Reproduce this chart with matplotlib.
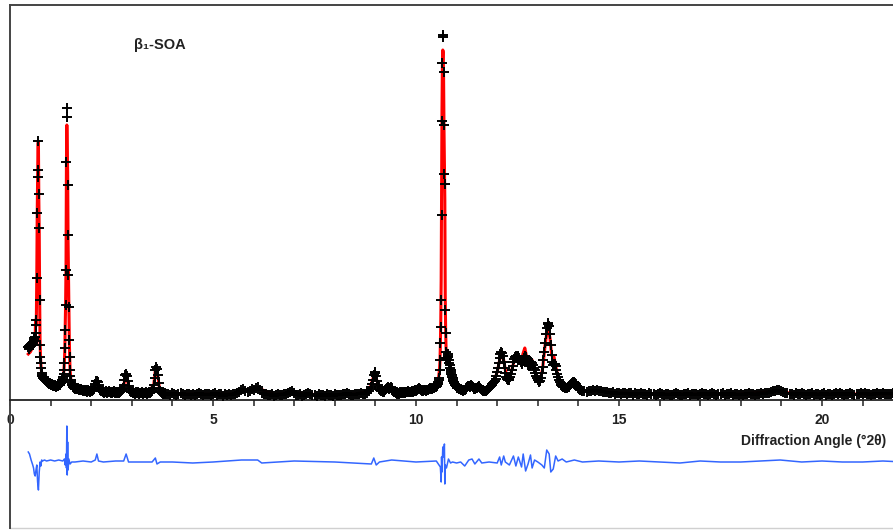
import numpy as np
import matplotlib
matplotlib.use("Agg")
import matplotlib.pyplot as plt
from matplotlib.lines import Line2D

plt.rcParams["font.family"] = ["Liberation Sans", "DejaVu Sans"]

# ---- observed pattern, read off the picture (intensity in arbitrary units) ----
# each block: (first 2theta, step) and the intensities on that step grid
obs_blocks = [(0.45, 0.01), (1.66, 0.02), (3.90, 0.05), (8.88, 0.02),
              (10.48, 0.01), (11.10, 0.02), (14.15, 0.05)]

obs_1 = [
    53, 51, 54, 52, 55, 53, 56, 54, 55, 57,
    56, 58, 57, 59, 60, 62, 63, 63, 67, 75,
    80, 122, 187, 223, 259, 230, 206, 172, 100, 55,
    43, 37, 32, 27, 25, 24, 23, 22, 22, 21,
    21, 20, 20, 19, 20, 19, 18, 18, 19, 17,
    17, 17, 16, 17, 16, 16, 16, 15, 16, 15,
    15, 14, 15, 14, 14, 15, 14, 14, 14, 13,
    14, 14, 14, 15, 14, 15, 15, 15, 16, 16,
    17, 17, 18, 19, 20, 21, 23, 26, 30, 37,
    52, 70, 95, 130, 238, 292, 283, 215, 165, 125,
    93, 60, 43, 30, 24, 20, 18, 16, 15, 14,
    13, 13, 12, 13, 12, 12, 11, 12, 12, 11,
]
obs_2 = [
    11, 12, 10, 11, 10, 11, 10, 9, 10, 9,
    10, 9, 8, 10, 9, 9, 8, 10, 9, 10,
    11, 13, 16, 19, 19, 18, 15, 12, 10, 9,
    9, 8, 9, 7, 8, 9, 8, 7, 8, 9,
    8, 7, 8, 7, 8, 9, 7, 8, 8, 7,
    8, 7, 8, 9, 9, 10, 12, 15, 20, 25,
    26, 24, 19, 14, 11, 9, 8, 8, 7, 8,
    7, 6, 8, 7, 7, 8, 6, 7, 7, 8,
    7, 6, 7, 7, 8, 7, 6, 7, 8, 7,
    8, 8, 9, 11, 15, 22, 30, 33, 31, 25,
    17, 12, 9, 8, 7, 6, 7, 6, 7, 6,
]
obs_3 = [
    6, 5, 7, 6, 5, 6, 7, 6, 5, 6,
    6, 5, 6, 5, 6, 7, 6, 5, 6, 6,
    6, 5, 6, 7, 5, 6, 6, 4, 6, 5,
    6, 5, 6, 6, 7, 8, 10, 11, 9, 8,
    9, 11, 10, 12, 13, 10, 7, 6, 6, 5,
    5, 6, 4, 5, 6, 5, 5, 6, 6, 7,
    8, 9, 7, 5, 5, 6, 4, 5, 6, 7,
    6, 5, 5, 4, 6, 5, 5, 4, 6, 5,
    5, 4, 6, 5, 5, 5, 6, 6, 7, 6,
    5, 5, 6, 6, 6, 7, 6, 6, 7, 9,
]
obs_4 = [
    11, 13, 16, 20, 25, 28, 27, 24, 19, 15,
    13, 11, 10, 9, 9, 8, 8, 9, 10, 11,
    12, 13, 12, 11, 12, 13, 12, 10, 9, 8,
    8, 7, 6, 8, 7, 6, 8, 7, 7, 8,
    7, 8, 8, 7, 8, 8, 9, 8, 8, 8,
    8, 9, 8, 9, 9, 10, 9, 10, 11, 11,
    12, 11, 10, 10, 9, 9, 10, 10, 9, 10,
    10, 10, 11, 12, 12, 11, 11, 12, 12, 13,
]
obs_5 = [
    13, 13, 14, 14, 15, 16, 17, 18, 20, 22,
    30, 40, 57, 73, 100, 185, 279, 337, 365, 363,
    328, 275, 226, 216, 90, 67, 48, 42, 40, 42,
    44, 46, 43, 40, 37, 35, 32, 30, 28, 26,
    25, 23, 22, 20, 19, 18, 17, 16, 15, 15,
    14, 14, 13, 13, 12, 12, 12, 11, 12, 11,
]
obs_6 = [
    11, 10, 10, 9, 10, 10, 11, 12, 13, 14,
    14, 13, 14, 15, 14, 13, 12, 11, 11, 12,
    12, 13, 14, 13, 12, 11, 10, 10, 9, 9,
    9, 9, 10, 10, 11, 12, 13, 14, 15, 16,
    17, 18, 19, 21, 24, 28, 32, 37, 42, 46,
    48, 47, 44, 38, 32, 27, 23, 21, 20, 20,
    21, 23, 26, 30, 34, 38, 41, 43, 44, 43,
    44, 43, 42, 40, 38, 36, 37, 39, 42, 44,
    43, 41, 38, 35, 34, 35, 37, 38, 37, 35,
    32, 30, 27, 24, 22, 20, 19, 18, 19, 22,
    27, 33, 40, 48, 57, 66, 72, 76, 77, 74,
    66, 55, 45, 38, 35, 36, 36, 34, 30, 26,
    23, 20, 18, 16, 15, 14, 13, 13, 12, 13,
    12, 12, 13, 13, 14, 15, 16, 17, 18, 18,
    18, 17, 16, 14, 13, 12, 11, 10, 10, 9,
]
obs_7 = [
    9, 8, 9, 9, 10, 9, 10, 9, 9, 8,
    8, 8, 7, 7, 8, 6, 7, 7, 6, 7,
    7, 6, 7, 7, 5, 7, 6, 6, 7, 6,
    6, 5, 7, 6, 6, 5, 6, 7, 6, 5,
    6, 6, 5, 5, 6, 7, 6, 5, 5, 6,
    6, 7, 5, 6, 6, 6, 5, 6, 7, 6,
    6, 5, 6, 7, 6, 5, 6, 6, 7, 5,
    6, 6, 7, 5, 6, 6, 5, 6, 5, 6,
    6, 7, 6, 6, 5, 6, 6, 7, 6, 7,
    7, 7, 8, 9, 9, 10, 10, 9, 8, 7,
    7, 6, 6, 5, 7, 6, 6, 7, 6, 5,
    6, 6, 7, 5, 6, 6, 5, 6, 7, 5,
    6, 6, 5, 6, 7, 6, 7, 6, 5, 6,
    6, 7, 6, 5, 6, 6, 7, 6, 7, 6,
    6, 5, 6, 6, 7, 6, 6, 7, 6, 6,
    6, 6, 7, 6, 6, 5, 6, 6, 6, 6,
]
obs_values = [obs_1, obs_2, obs_3, obs_4, obs_5, obs_6, obs_7]

# ---- calculated (Rietveld fit) profile ----
calc_tt = [0.45, 0.50, 0.55, 0.58, 0.60, 0.62, 0.63, 0.64, 0.65, 0.66, 0.67, 0.68,
           0.69, 0.70, 0.71, 0.72, 0.73, 0.74, 0.75, 0.76, 0.77, 0.78, 0.80, 0.85,
           0.90, 0.95, 1.00, 1.10, 1.20, 1.25, 1.30, 1.32, 1.33, 1.34, 1.35, 1.36,
           1.37, 1.38, 1.39, 1.40, 1.41, 1.42, 1.43, 1.44, 1.45, 1.46, 1.47, 1.48,
           1.50, 1.55, 1.60, 1.70, 2.00, 2.10, 2.12, 2.14, 2.16, 2.20, 2.30, 2.60,
           2.80, 2.82, 2.84, 2.86, 2.88, 2.90, 2.94, 3.00, 3.40, 3.54, 3.56, 3.58,
           3.60, 3.62, 3.64, 3.68, 3.76, 4.00, 4.50, 5.00, 5.50, 5.75, 6.10, 6.50,
           7.00, 7.50, 8.00, 8.50, 8.85, 8.98, 9.10, 9.35, 9.60, 10.00, 10.15, 10.40,
           10.55, 10.58, 10.59, 10.60, 10.61, 10.62, 10.63, 10.64, 10.65, 10.66, 10.67, 10.68,
           10.69, 10.70, 10.71, 10.72, 10.73, 10.74, 10.76, 10.80, 10.85, 10.90, 11.00, 11.20,
           11.36, 11.60, 11.80, 11.90, 12.00, 12.06, 12.10, 12.12, 12.16, 12.20, 12.26, 12.30,
           12.36, 12.42, 12.46, 12.50, 12.56, 12.60, 12.64, 12.68, 12.72, 12.78, 12.82, 12.86,
           12.92, 13.00, 13.06, 13.12, 13.18, 13.22, 13.26, 13.30, 13.34, 13.38, 13.40, 13.44,
           13.50, 13.60, 13.80, 13.92, 14.10, 14.50, 15.00, 16.00, 17.00, 18.00, 18.90, 19.20,
           20.00, 21.00, 22.00]
calc_i = [46, 48, 52, 55, 58, 61, 80, 74, 85, 125, 185, 225,
          257, 258, 200, 168, 105, 60, 45, 36, 31, 27, 24, 21,
          19, 17, 16, 14, 15, 17, 21, 26, 31, 38, 50, 72,
          97, 135, 235, 275, 250, 228, 160, 125, 90, 62, 43, 30,
          20, 13, 12, 10, 9.5, 15, 18, 17, 16, 12, 8.5, 8,
          14, 19, 24, 25, 23, 18, 11, 8, 7.5, 15, 22, 30,
          33, 30, 24, 12, 7, 6, 6, 6, 6, 10, 12, 5.5,
          7, 5.5, 5.5, 6, 9, 27, 11, 12, 7.5, 9, 11, 12,
          20, 31, 38, 55, 78, 120, 200, 290, 335, 350, 348, 320,
          270, 235, 200, 105, 70, 52, 42, 43, 33, 23, 14, 11,
          14, 12, 10, 16, 28, 40, 46, 46, 40, 30, 21, 21,
          30, 40, 45, 44, 40, 40, 47, 52, 44, 36, 38, 40,
          30, 20, 19, 32, 55, 66, 70, 62, 45, 42, 43, 34,
          23, 14, 14, 18, 9, 9, 7, 6, 6, 6, 9, 7,
          6, 6, 6]

# ---- difference curve (obs - calc) ----
diff_tt = [0.45, 0.48, 0.52, 0.56, 0.58, 0.60, 0.62, 0.64, 0.66, 0.68, 0.70, 0.72,
           0.74, 0.76, 0.78, 0.80, 0.85, 0.90, 1.00, 1.10, 1.20, 1.30, 1.34, 1.36,
           1.38, 1.39, 1.40, 1.41, 1.42, 1.43, 1.45, 1.48, 1.52, 1.60, 1.80, 2.00,
           2.10, 2.14, 2.18, 2.30, 2.60, 2.80, 2.86, 2.92, 3.20, 3.50, 3.58, 3.62,
           3.70, 4.00, 4.50, 5.00, 5.70, 6.10, 6.20, 7.00, 8.00, 8.90, 8.96, 9.02,
           9.10, 9.40, 10.00, 10.50, 10.60, 10.62, 10.63, 10.64, 10.66, 10.67, 10.68, 10.70,
           10.71, 10.72, 10.75, 10.80, 10.85, 10.90, 11.00, 11.10, 11.20, 11.30, 11.38, 11.45,
           11.55, 11.62, 11.80, 12.00, 12.06, 12.10, 12.16, 12.20, 12.30, 12.40, 12.46, 12.52,
           12.60, 12.64, 12.70, 12.76, 12.82, 12.86, 12.92, 13.00, 13.10, 13.16, 13.22, 13.28,
           13.32, 13.38, 13.44, 13.50, 13.60, 13.70, 13.90, 14.10, 14.50, 15.00, 15.50, 16.00,
           16.50, 17.00, 17.50, 18.00, 18.50, 18.97, 19.50, 20.00, 20.50, 21.00, 21.50, 22.00]
diff_i = [10, 8, 2, -3, -6, -12, -14, -8, -3, -20, -28, -10,
          0, -4, 2, 1, 2, 1, 2, 1, 2, 1, 3, -3,
          8, -6, 36, -13, 20, -8, 3, -2, 0, 0, 1, 0,
          2, 8, 1, 0, 1, 1, 8, 0, 0, 0, 4, -2,
          0, 0, -1, 0, 2, 2, -1, 1, 0, -2, 4, -3,
          0, 2, 0, 1, -5, -20, 5, -10, 15, 5, 10, 18,
          -22, -3, -6, 3, -1, 0, -1, 0, -4, 2, 3, -2,
          3, -1, 0, -1, 5, -3, 6, 0, -3, 6, -4, 5,
          -5, 8, -9, -2, 7, -6, 2, 0, -3, -6, 12, 8,
          -10, -7, 6, 1, 3, 0, 2, 0, 1, 0, 1, 0,
          -1, 1, 0, 0, 1, 2, 0, 1, 0, 0, 1, 0]
diff_offset = -62

x_major = [0, 5, 10, 15, 20]
x_minor = list(range(0, 22))
sample_label = "β\u2081-SOA"
x_label = "Diffraction Angle (°2θ)"

# assemble observed points
tt_obs = np.concatenate([start + step * np.arange(len(v))
                         for (start, step), v in zip(obs_blocks, obs_values)])
i_obs = np.concatenate([np.asarray(v, dtype=float) for v in obs_values])

fig = plt.figure(figsize=(8.93, 5.30), dpi=100)
ax = fig.add_axes([9.5 / 893, 2 / 530, 1 - 9.5 / 893, 523 / 530])

ax.plot(calc_tt, calc_i, color="#ff0000", lw=2.2, zorder=2)
ax.plot(tt_obs, i_obs, linestyle="none", marker="+", ms=7, mew=1.4,
        color="black", zorder=3)
ax.plot(diff_tt, np.asarray(diff_i) + diff_offset, color="#3366ff", lw=1.1, zorder=2)

ax.set_xlim(-0.5 / 40.6, 883 / 40.6)
ax.set_ylim(-128, 395)

for side in ("top", "left"):
    ax.spines[side].set_color("#444444")
    ax.spines[side].set_linewidth(1.4)
ax.spines["right"].set_visible(False)
ax.spines["bottom"].set_position(("data", 0))
ax.spines["bottom"].set_color("#222222")
ax.spines["bottom"].set_linewidth(1.3)

ax.set_xticks(x_major)
ax.set_xticks(x_minor, minor=True)
ax.set_xticklabels([str(v) for v in x_major], fontweight="bold", fontsize=10)
ax.tick_params(axis="x", which="both", direction="out", length=4, width=1.1,
               color="#222222", pad=5, labelcolor="#222222")
ax.set_yticks([])

# faint frame line at the bottom of the plot box
ax.add_line(Line2D([0, 1], [0, 0], transform=ax.transAxes, color="#d0d0d0",
                   lw=1.0, clip_on=False))

ax.text(160 / 893, 1 - 45 / 530, sample_label, transform=fig.transFigure,
        ha="center", va="center", fontsize=10.5, fontweight="bold", color="#222222")
ax.text(886 / 893, 1 - 441 / 530, x_label, transform=fig.transFigure,
        ha="right", va="center", fontsize=10, fontweight="bold", color="#222222")

fig.savefig("out.png", dpi=100)
